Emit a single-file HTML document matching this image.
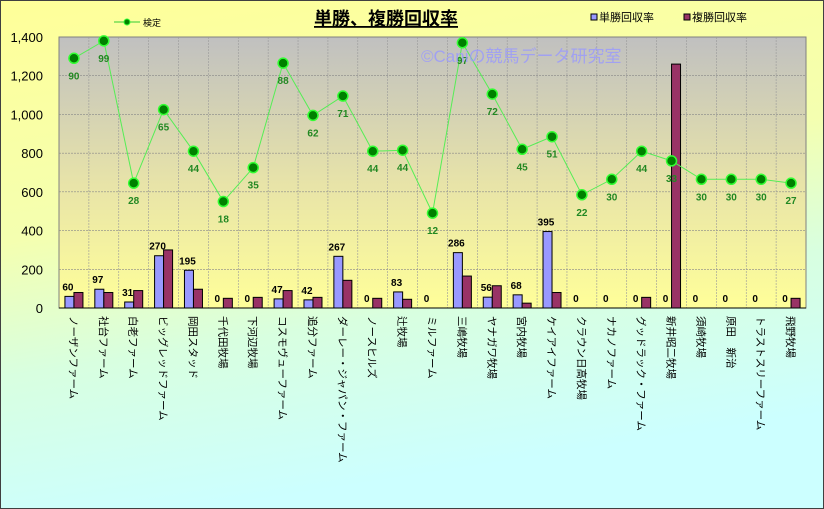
<!DOCTYPE html>
<html><head><meta charset="utf-8">
<style>
html,body{margin:0;padding:0;background:#fff}
svg{display:block}
text{font-family:"Liberation Sans","Noto Sans CJK JP",sans-serif}
</style></head>
<body>
<svg id="chart" width="824" height="509" viewBox="0 0 824 509" xmlns="http://www.w3.org/2000/svg">
<defs>
<linearGradient id="bgGrad" x1="0" y1="0" x2="0.25" y2="1">
<stop offset="0" stop-color="#ffff99"/>
<stop offset="0.45" stop-color="#f4ffb0"/>
<stop offset="0.7" stop-color="#d8ffe0"/>
<stop offset="1" stop-color="#ccffff"/>
</linearGradient>
<linearGradient id="plotGrad" x1="0" y1="0" x2="0" y2="1">
<stop offset="0" stop-color="#c0c0c0"/>
<stop offset="0.55" stop-color="#e8e4a8"/>
<stop offset="1" stop-color="#ffff99"/>
</linearGradient>
</defs>
<rect x="0.5" y="0.5" width="823" height="508" fill="url(#bgGrad)" stroke="#404040" stroke-width="1"/>
<rect x="59" y="37" width="747" height="271" fill="url(#plotGrad)" stroke="#808080" stroke-width="1"/>
<g id="grid"></g>
<g id="bars"></g>
<g id="line"></g>
<g id="labels"></g>
<g id="axes"></g>
<text x="421" y="62" font-size="17" fill="#9999ff" opacity="0.8">©Caniの競馬データ研究室</text>
<text x="386" y="25" font-size="18" font-weight="bold" text-anchor="middle" fill="#000" text-decoration="underline">単勝、複勝回収率</text>
<g>
<line x1="114" y1="22" x2="140" y2="22" stroke="#33cc33" stroke-width="1"/>
<circle cx="127" cy="22" r="3" fill="#008000" stroke="#33ff33"/>
<text x="143" y="26" font-size="9" fill="#000">検定</text>
</g>
<g>
<rect x="591" y="14" width="6" height="6" fill="#9999ff" stroke="#000"/>
<text x="599" y="21" font-size="11" fill="#000">単勝回収率</text>
</g>
<g>
<rect x="684" y="14" width="6" height="6" fill="#993366" stroke="#000"/>
<text x="692" y="21" font-size="11" fill="#000">複勝回収率</text>
</g>
</svg>
<script>
const categories=["ノーザンファーム","社台ファーム","白老ファーム","ビッグレッドファーム","岡田スタッド","千代田牧場","下河辺牧場","コスモヴューファーム","追分ファーム","ダーレー・ジャパン・ファーム","ノースヒルズ","辻牧場","ミルファーム","三嶋牧場","ヤナガワ牧場","宮内牧場","ケイアイファーム","クラウン日高牧場","ナカノファーム","グッドラック・ファーム","新井昭二牧場","須崎牧場","原田　新治","トラストスリーファーム","飛野牧場"];
const winRate=[60,97,31,270,195,0,0,47,42,267,0,83,0,286,56,68,395,0,0,0,0,0,0,0,0];
const placeRate=[80,80,90,300,97,50,55,90,55,143,50,45,0,165,115,25,80,0,0,55,1260,0,0,0,50];
const testValues=[1290,1380,645,1025,810,550,725,1265,995,1095,810,815,490,1370,1105,820,885,585,665,810,760,665,665,665,645];
const testLabels=[90,99,28,65,44,18,35,88,62,71,44,44,12,97,72,45,51,22,30,44,33,30,30,30,27];
const yTicks=[0,200,400,600,800,1000,1200,1400];

const NS="http://www.w3.org/2000/svg";
const L=59,R=806,T=37,B=308,YMAX=1400;
const cw=(R-L)/categories.length;
function x(i){return L+cw*(i+0.5);}
function y(v){return B-(v/YMAX)*(B-T);}
function mk(tag,attrs,parent,txt){const e=document.createElementNS(NS,tag);for(const k in attrs)e.setAttribute(k,attrs[k]);if(txt!==undefined)e.textContent=txt;parent.appendChild(e);return e;}
const grid=document.getElementById('grid'),bars=document.getElementById('bars'),line=document.getElementById('line'),labels=document.getElementById('labels'),axes=document.getElementById('axes');

yTicks.forEach(t=>{
  if(t>0&&t<YMAX){const g=mk('line',{x1:L,x2:R,y1:y(t),y2:y(t),stroke:'#888','stroke-dasharray':'2,1','stroke-width':0.6},grid);
  
  }
  const tl=mk('text',{x:L-16,y:y(t)+5,'font-size':13,'text-anchor':'end',fill:'#000'},axes,t.toLocaleString('en-US'));
  
  
});
for(let i=1;i<categories.length;i++){
  const gx=L+cw*i;
  const g=mk('line',{x1:gx,x2:gx,y1:T,y2:B,stroke:'#999','stroke-dasharray':'2,1','stroke-width':0.6},grid);
  
  
}
const bw=9;
categories.forEach((c,i)=>{
  const cx=x(i);
  if(winRate[i]>0){
    const b=mk('rect',{x:cx-bw,y:y(winRate[i]),width:bw,height:B-y(winRate[i]),fill:'#9999ff',stroke:'#000','stroke-width':1},bars);
    
    
  }
  if(placeRate[i]>0){
    const b=mk('rect',{x:cx,y:y(placeRate[i]),width:bw,height:B-y(placeRate[i]),fill:'#993366',stroke:'#000','stroke-width':1},bars);
    
    
  }
  const wl=mk('text',{x:cx-6,y:y(winRate[i])-6,'font-size':10,'font-weight':'bold','text-anchor':'middle',fill:'#000'},labels,winRate[i]);
  
  
  const cl=mk('text',{x:0,y:0,'font-size':10.5,fill:'#000',transform:`translate(${cx-4},${B+8}) rotate(90)`},labels,c);
  
  
});
const pts=testValues.map((v,i)=>x(i)+','+y(v)).join(' ');
const pl=mk('polyline',{points:pts,fill:'none',stroke:'#55ee55','stroke-width':1},line);


testValues.forEach((v,i)=>{
  const c=mk('circle',{cx:x(i),cy:y(v),r:5,fill:'#008000',stroke:'#33ff33','stroke-width':1.5},line);
  
  
  const t=mk('text',{x:x(i),y:y(v)+21,'font-size':10,'font-weight':'bold','text-anchor':'middle',fill:'#228822'},labels,testLabels[i]);
  
  
});
mk('line',{x1:L,x2:R,y1:B,y2:B,stroke:'#000','stroke-width':1},axes);
</script>
</body></html>
